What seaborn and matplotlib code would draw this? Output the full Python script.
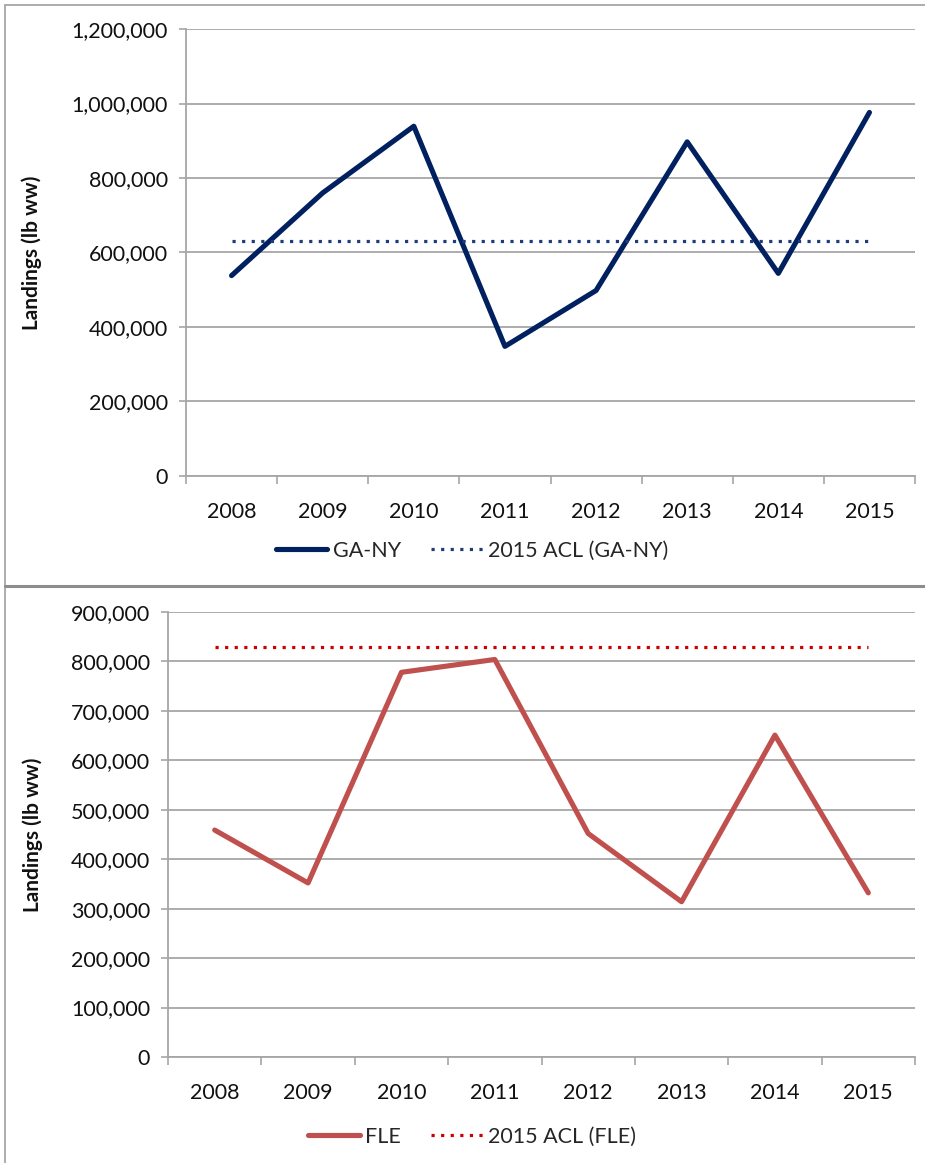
import matplotlib
matplotlib.use("Agg")
import matplotlib.pyplot as plt
from matplotlib.lines import Line2D
from matplotlib.ticker import FixedLocator, FuncFormatter
import numpy as np
import pandas as pd
import seaborn as sns

years = [2008, 2009, 2010, 2011, 2012, 2013, 2014, 2015]
ga_ny = [538000, 760000, 939000, 348000, 498000, 897000, 544000, 976000]
ga_ny_acl = 632000
fle = [459000, 352000, 778000, 804000, 452000, 314000, 651000, 332000]
fle_acl = 829000

GRID = "#a6a6a6"

sns.set_style("white")
plt.rcParams["font.family"] = ["Lato", "DejaVu Sans"]


def draw_panel(ax, values, acl, line_color, acl_color, name, acl_label, ymax, ystep, label_x, legend_xy):
    df = pd.DataFrame({"pos": np.arange(len(years)), "value": values, "acl": [acl] * len(years)})
    sns.lineplot(data=df, x="pos", y="value", ax=ax, color=line_color, lw=3.7,
                 label=name, solid_joinstyle="round", solid_capstyle="round")
    sns.lineplot(data=df, x="pos", y="acl", ax=ax, color=acl_color, lw=2.3,
                 linestyle=(0, (1, 2)), label=acl_label)

    ax.set_xlim(-0.5, len(years) - 0.5)
    ax.set_ylim(0, ymax)
    ax.set_xticks(np.arange(len(years)))
    ax.set_xticklabels(years)
    ax.xaxis.set_minor_locator(FixedLocator(np.arange(-0.5, len(years), 1)))
    ax.tick_params(axis="x", which="major", bottom=True, length=0, pad=19, labelsize=15.5, labelcolor="#111111")
    ax.tick_params(axis="x", which="minor", bottom=True, length=6, width=1.2, color=GRID, direction="out")

    ax.set_yticks(np.arange(0, ymax + 1, ystep))
    ax.yaxis.set_major_formatter(FuncFormatter(lambda v, p: f"{v:,.0f}"))
    ax.tick_params(axis="y", left=True, length=5, width=1.2, color=GRID, pad=8, labelsize=15.5, labelcolor="#111111")
    ax.grid(axis="y", color=GRID, lw=1.3)
    ax.set_axisbelow(True)

    for side in ["top", "right"]:
        ax.spines[side].set_visible(False)
    for side in ["left", "bottom"]:
        ax.spines[side].set_color(GRID)
        ax.spines[side].set_linewidth(1.3)

    ax.set_xlabel("")
    ax.set_ylabel("Landings (lb ww)", fontsize=15, fontweight="bold", color="#111111")
    ax.yaxis.set_label_coords(label_x, 0.5)

    ax.legend(loc="center", bbox_to_anchor=legend_xy, bbox_transform=ax.figure.transFigure,
              ncol=2, frameon=False, fontsize=15.5, handlelength=2.4, handletextpad=0.25,
              columnspacing=1.4)


fig = plt.figure(figsize=(9.25, 11.63), dpi=100)
W, H = 925, 1163

ax1 = fig.add_axes([186 / W, 1 - 476 / H, 729 / W, 447 / H])
draw_panel(ax1, ga_ny, ga_ny_acl, "#002060", "#1f3c7a", "GA-NY", "2015 ACL (GA-NY)",
           1200000, 200000, -0.197, (472 / W, 1 - 551 / H))

ax2 = fig.add_axes([168 / W, 1 - 1057 / H, 747 / W, 445 / H])
draw_panel(ax2, fle, fle_acl, "#c0504d", "#cc0000", "FLE", "2015 ACL (FLE)",
           900000, 100000, -0.168, (472 / W, 1 - 1137 / H))

# panel frames
fig.add_artist(Line2D([5 / W, 1], [1 - 5 / H, 1 - 5 / H], transform=fig.transFigure, color=GRID, lw=1.3))
fig.add_artist(Line2D([5 / W, 5 / W], [0, 1 - 5 / H], transform=fig.transFigure, color=GRID, lw=1.3))
fig.add_artist(Line2D([5 / W, 1], [1 - 586 / H, 1 - 586 / H], transform=fig.transFigure, color="#8c8c8c", lw=2.2))

fig.savefig("out.png", dpi=100)
plt.close(fig)
